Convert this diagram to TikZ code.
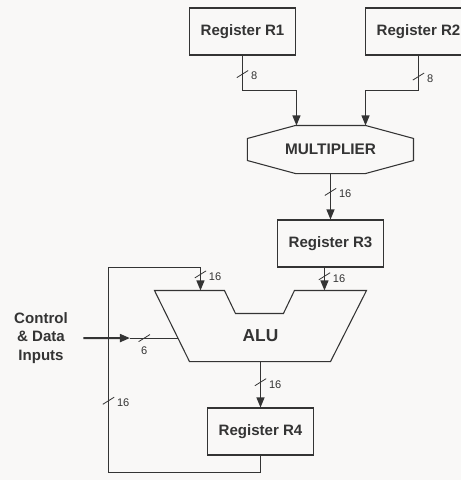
\documentclass[tikz,border=0pt]{standalone}
\usepackage{fontspec}
\setmainfont{Liberation Sans}
\usetikzlibrary{arrows.meta, positioning, calc}

\definecolor{bgcol}{RGB}{249,248,247}
\definecolor{ink}{RGB}{52,52,52}

\begin{document}
\begin{tikzpicture}[
  x=0.75pt, y=0.75pt, line width=0.8pt, color=ink,
  reg/.style={rectangle, draw, minimum width=79pt, minimum height=35.25pt, inner sep=0pt, font=\bfseries\fontsize{11.3}{13}\selectfont},
  unit/.style={rectangle, inner sep=0pt, font=\bfseries\fontsize{11.5}{13}\selectfont},
  bus/.style={-{Triangle[length=7.5pt,width=6pt]}},
  slash/.style={draw, rectangle, line width=0.6pt, minimum width=10pt, minimum height=0pt, inner sep=0pt, rotate=32},
  bwlbl/.style={inner sep=0pt, anchor=west, xshift=6pt, yshift=-1.5pt, font=\fontsize{8.3}{9}\selectfont},
  bwbelow/.style={inner sep=0pt, anchor=north, yshift=-6pt, font=\fontsize{8.3}{9}\selectfont}
]

% page
\fill[bgcol] (0,0) rectangle (461,480);
\useasboundingbox (0,0) rectangle (461,480);
\clip (0,0) rectangle (461,480);

% registers
\node[reg] (r1) at (242.5,448.5) {Register R1};
\node[reg] (r2) at (418.5,448.5) {Register R2};
\node[reg] (r3) at (330.5,236.5) {Register R3};
\node[reg] (r4) at (260.5,48.5) {Register R4};

% multiplier (octagon round its node)
\node[unit, minimum width=123.75pt, minimum height=35.25pt] (mul) at (330.5,330.5) {MULTIPLIER};
\draw ($(mul.north west)+(48,0)$) -- ($(mul.north east)+(-48,0)$)
  -- ($(mul.north east)+(0,-13)$) -- ($(mul.south east)+(0,13)$)
  -- ($(mul.south east)+(-48,0)$) -- ($(mul.south west)+(48,0)$)
  -- ($(mul.south west)+(0,13)$) -- ($(mul.north west)+(0,-13)$) -- cycle;
\coordinate (mulA) at ($(mul.north west)+(49,0)$);
\coordinate (mulB) at ($(mul.north east)+(-48,0)$);

% ALU with the notch on top
\node[unit, minimum width=158.25pt, minimum height=52.5pt] (alu) at (260.5,154) {};
\draw (alu.north west) -- ++(70,0) -- ++(11,-23) -- ++(48,0) -- ++(11,23)
  -- (alu.north east) -- ($(alu.south east)+(-36,0)$)
  -- ($(alu.south west)+(35,0)$) -- cycle;
\node[unit, font=\bfseries\fontsize{13}{15}\selectfont] (alutxt) at ($(alu.center)+(0,-10)$) {ALU};
\coordinate (aluA) at ($(alu.north west)+(46,0)$);
\coordinate (aluB) at ($(alu.north west)+(170,0)$);
\path (alu.north west) -- ($(alu.south west)+(35,0)$) coordinate[pos=0.67] (aluC);

% control input
\node[align=center, inner sep=0pt, font=\bfseries\fontsize{11.3}{14}\selectfont] (ctrl) at (41,142) {Control\\\& Data\\Inputs};
\coordinate (ctrlTip) at ($(aluC)+(-48,0)$);

% buses
\draw[bus] (r1.south) -- node[slash, pos=.53] {} node[bwlbl, pos=.53] {8} ++(0,-35) -| (mulA);
\draw[bus] (r2.south) -- node[slash, pos=.6] {} node[bwlbl, pos=.6] {8} ++(0,-35) -| (mulB);
\draw[bus] (mul.south) -- node[slash, pos=.4] {} node[bwlbl, pos=.4] {16} (r3.north);
\draw[bus] (r3.south -| aluB) -- node[slash, pos=.38] {} node[bwlbl, pos=.38] {16} (aluB);
\draw[bus] (alu.south) -- node[slash, pos=.45] {} node[bwlbl, pos=.45] {16} (r4.north);

% feedback from R4
\coordinate (loopBL) at (108.5,7.5);
\coordinate (loopTL) at (108.5,212.5);
\draw[bus] (r4.south) |- (loopBL) -- node[slash, pos=.35] {} node[bwlbl, pos=.35] {16} (loopTL)
  -- (aluA |- loopTL) -- node[slash, pos=.3] {} node[bwlbl, pos=.3] {16} (aluA);

\draw[line width=1.5pt, -{Triangle[length=7.5pt,width=6pt]}] ($(ctrl.east)+(15,0)$) -- (ctrlTip);
\draw (ctrlTip) -- node[slash, pos=.3] {} node[bwbelow, pos=.3] {6} (aluC);

\end{tikzpicture}
\end{document}
